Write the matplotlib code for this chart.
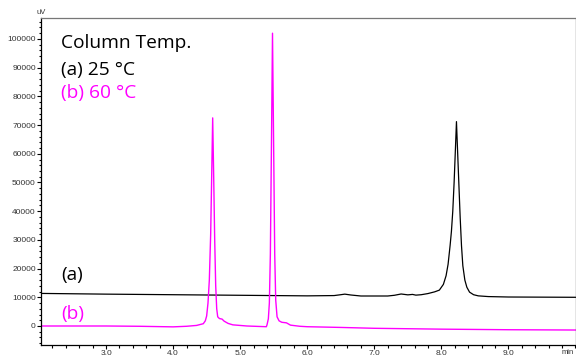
import numpy as np
import matplotlib
matplotlib.use("Agg")
import matplotlib.pyplot as plt
from matplotlib.ticker import MultipleLocator

######### Data #########

# (a) 25 degC, black trace : time (min), signal (uV)
t_a = [2.03, 3.0, 4.0, 5.0, 6.0, 6.4, 6.5, 6.56, 6.65, 6.8, 7.2, 7.3, 7.4, 7.5,
       7.57, 7.62, 7.7, 7.8, 7.9, 7.97, 8.03, 8.07, 8.10, 8.13, 8.15, 8.17, 8.19,
       8.21, 8.225, 8.24, 8.26, 8.28, 8.30, 8.32, 8.35, 8.38, 8.42, 8.48, 8.55,
       8.7, 9.0, 10.0]
y_a = [11350, 11100, 10900, 10700, 10500, 10600, 10900, 11100, 10800, 10450, 10450,
       10700, 11150, 10850, 11000, 10750, 10900, 11300, 11900, 12500, 14500, 17500,
       21500, 28000, 33000, 40000, 50000, 62000, 71200, 62000, 50000, 38000, 28000,
       21000, 16000, 13500, 11800, 10900, 10500, 10250, 10100, 10000]

# (b) 60 degC, magenta trace
t_b = [2.03, 3.0, 3.5, 4.0, 4.2, 4.35, 4.45, 4.48, 4.50, 4.52, 4.54, 4.56, 4.575,
       4.59, 4.605, 4.62, 4.635, 4.65, 4.665, 4.69, 4.73, 4.76, 4.82, 4.89, 5.1,
       5.39, 5.40, 5.42, 5.435, 5.45, 5.465, 5.482, 5.50, 5.515, 5.53, 5.55, 5.58,
       5.62, 5.69, 5.75, 5.89, 6.0, 6.5, 7.0, 8.0, 9.0, 10.0]
y_b = [0, 0, -100, -300, -100, 200, 800, 1800, 3500, 8000, 16000, 32000, 52000,
       72500, 52000, 30000, 14000, 6000, 3200, 2600, 2400, 1700, 900, 400, 0,
       -250, 400, 2500, 8000, 25000, 60000, 102000, 60000, 25000, 9000, 3200, 1800,
       1300, 1100, 300, -100, -250, -500, -800, -1100, -1300, -1400]

x_major = [3.0, 4.0, 5.0, 6.0, 7.0, 8.0, 9.0]
y_major = [0, 10000, 20000, 30000, 40000, 50000, 60000, 70000, 80000, 90000, 100000]

legend_lines = ["Column Temp.", "(a) 25 \u00b0C", "(b) 60 \u00b0C"]

######### Plot #########

fig = plt.figure(figsize=(5.76, 3.58), dpi=100)
ax = fig.add_axes([41 / 576, 1 - 345 / 358, 534.5 / 576, 327 / 358])

ax.plot(t_a, y_a, color="black", lw=0.9)
ax.plot(t_b, y_b, color="#ff00ff", lw=1.0)

ax.set_xlim(2.03, 10.0)
ax.set_ylim(-6620, 107300)

ax.set_xticks(x_major)
ax.set_xticklabels(["%.1f" % v for v in x_major])
ax.xaxis.set_minor_locator(MultipleLocator(0.2))
ax.set_yticks(y_major)
ax.set_yticklabels([str(v) for v in y_major])
ax.yaxis.set_minor_locator(MultipleLocator(2000))

ax.tick_params(axis="both", which="major", direction="out", labelsize=6,
               labelcolor="#333333", pad=0.8)
ax.tick_params(axis="both", which="minor", direction="out")
ax.tick_params(axis="x", which="major", length=2.9, width=0.8)
ax.tick_params(axis="x", which="minor", length=2.2, width=0.8)
ax.tick_params(axis="y", which="major", length=2.9, width=0.8)
ax.tick_params(axis="y", which="minor", length=1.6, width=0.8)
for lab in ax.get_xticklabels() + ax.get_yticklabels():
    lab.set_family("Liberation Sans")

ax.spines["left"].set_color("black")
ax.spines["bottom"].set_color("black")
ax.spines["top"].set_color("#777777")
ax.spines["right"].set_color("#333333")
for s in ax.spines.values():
    s.set_linewidth(0.9)

# axis unit labels
fig.text(41 / 576, 1 - 13 / 358, "uV", fontsize=5.5, family="Liberation Sans",
         color="#333333", ha="center", va="center")
fig.text(568 / 576, 1 - 353 / 358, "min", fontsize=5.5, family="Liberation Sans",
         color="#333333", ha="center", va="center")

# annotation text
font = "Open Sans"
fs = 13.8
ax.text(61 / 576, 1 - 43 / 358, legend_lines[0], transform=fig.transFigure,
        fontsize=fs, family=font, color="black", va="center")
ax.text(61 / 576, 1 - 70 / 358, legend_lines[1], transform=fig.transFigure,
        fontsize=fs, family=font, color="black", va="center")
ax.text(61 / 576, 1 - 93 / 358, legend_lines[2], transform=fig.transFigure,
        fontsize=fs, family=font, color="#ff00ff", va="center")
ax.text(61 / 576, 1 - 275 / 358, "(a)", transform=fig.transFigure,
        fontsize=fs, family=font, color="black", va="center")
ax.text(61 / 576, 1 - 314 / 358, "(b)", transform=fig.transFigure,
        fontsize=fs, family=font, color="#ff00ff", va="center")

fig.savefig("out.png", dpi=100)
